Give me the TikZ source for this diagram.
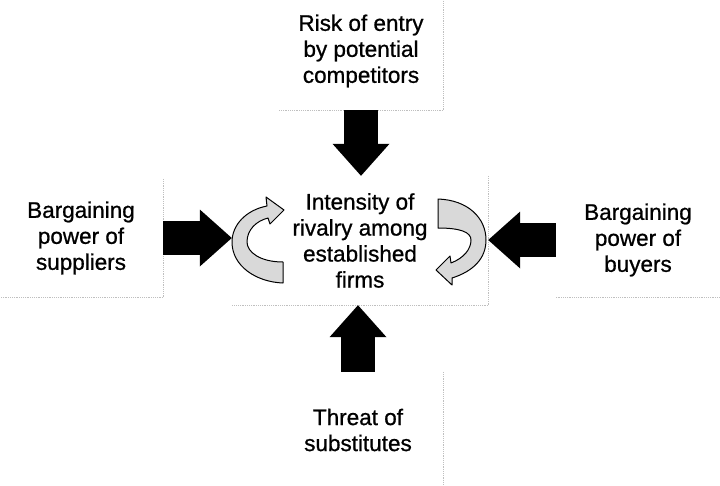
\documentclass[tikz,border=0pt]{standalone}
\usepackage{fontspec}
\setmainfont{Liberation Sans}
\newfontfamily\forcefont[FakeBold=0.8]{Liberation Sans}
\usetikzlibrary{arrows.meta}
\usetikzlibrary{calc}

\begin{document}
\begin{tikzpicture}[x=1pt, y=-1pt,
  force/.style={inner sep=0, align=center, font=\forcefont\fontsize{22.5}{26}\selectfont},
  shadowline/.style={gray!50, line width=1.2pt, densely dotted},
  blockarrow/.style={line width=34pt, -{Triangle[length=32pt, width=57pt, line width=0pt]}},
  ribbon/.style={draw=black, line width=1pt, fill=gray!30, line join=round}]
\useasboundingbox (0,0) rectangle (720,485);
% the five forces
\node[force, minimum width=256, minimum height=129] (rival)  at (360,240.5) {Intensity of\\rivalry among\\established\\firms};
\node[force, minimum width=164, minimum height=118] (top)    at (361,51)  {Risk of entry\\by potential\\competitors};
\node[force, minimum width=164, minimum height=118] (supp)   at (81,238)  {Bargaining\\power of\\suppliers};
\node[force, minimum width=164, minimum height=114] (buyers) at (638,240) {Bargaining\\power of\\buyers};
\node[force, minimum width=170, minimum height=116] (subst)  at (358,430) {Threat of\\substitutes};
% faint box edges
\foreach \b in {top, supp, rival} {
 \draw[shadowline] (\b.north east) -- (\b.south east) -- (\b.south west);
}
\draw[shadowline] (buyers.south east) -- (buyers.south west);
\draw[shadowline] (subst.north east) -- (subst.south east);
% block arrows
\draw[blockarrow] (top.south) -- (top.south |- rival.north);
\draw[blockarrow] (supp.east) -- (supp.east -| rival.west);
\draw[blockarrow] (buyers.west) -- (buyers.west -| rival.east);
\draw[blockarrow] (subst.north) -- (subst.north |- rival.south);
% rotating ribbons
\draw[ribbon] (283,262) .. controls (260,262) and (247,252) .. (247,242)
  .. controls (247,230) and (256,221) .. (268,218) -- (270,224) -- (284,210) -- (266,197) -- (267,206)
  .. controls (246,210) and (232,225) .. (232,242)
  .. controls (232,266) and (256,282) .. (283,283) -- cycle;
\draw[ribbon] (438,199) .. controls (468,200) and (486,218) .. (486,240)
  .. controls (486,258) and (474,271) .. (452,278) -- (452,285) -- (436,270) -- (450,256) -- (451,263)
  .. controls (464,258) and (471,249) .. (471,240)
  .. controls (471,232) and (460,228) .. (438,228) -- cycle;
\end{tikzpicture}
\end{document}
